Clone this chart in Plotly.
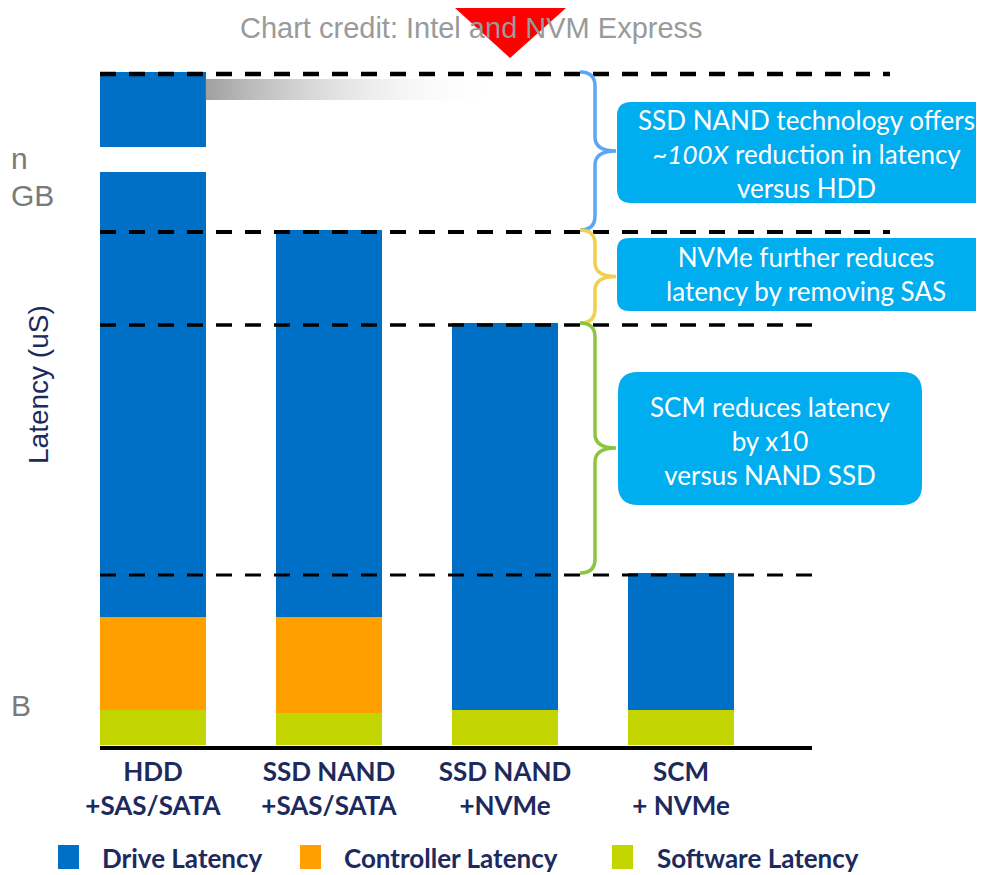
import plotly.graph_objects as go

# ---------------- data ----------------
categories = ["HDD<br>+SAS/SATA", "SSD NAND<br>+SAS/SATA", "SSD NAND<br>+NVMe", "SCM<br>+ NVMe"]
software_latency = [35, 32, 35, 35]
controller_latency = [93, 96, 0, 0]
drive_latency = [545, 387, 387, 137]
series_names = ["Drive Latency", "Controller Latency", "Software Latency"]
callout_texts = [
    "SSD NAND technology offers<br>~<i>100X</i> reduction in latency<br>versus HDD",
    "NVMe further reduces<br>latency by removing SAS",
    "SCM reduces latency<br>by x10<br>versus NAND SSD",
]
credit_text = "Chart credit: Intel and NVM Express"
y_title = "Latency (uS)"
edge_texts = ["n", "GB", "B"]

# ---------------- styles ----------------
C_DRIVE = "#0070c6"
C_CTRL = "#ffa000"
C_SOFT = "#c3d500"
C_BOX = "#00adef"
C_NAVY = "#1c2a5e"
BRACE_COLORS = ["#5aa8f5", "#f0d04c", "#8cc540"]
FONT = "Lato"

W, H = 984, 875
OFF = 8  # page body margin
# plot area in screen pixels: x 100..992, y 8..750
ML, MR, MT = 100 - OFF, 0, 0
PLOT_TOP, PLOT_BOT = OFF, 750
MB = H - (PLOT_BOT - OFF)
PLOT_W = W - ML - MR
PLOT_H = PLOT_BOT - PLOT_TOP
PX_PER_CAT = 176.0
X0_PX = 153.0  # screen pixel centre of first category


def X(px):
    return (px - X0_PX) / PX_PER_CAT


def Y(py):
    return 745 - py


def PX(px):
    return (px - 100) / PLOT_W


def PY(py):
    return (PLOT_BOT - py) / PLOT_H


xs = list(range(len(categories)))
totals = [s + c + d for s, c, d in zip(software_latency, controller_latency, drive_latency)]
colors = [C_DRIVE, C_CTRL, C_SOFT]

fig = go.Figure()
fig.add_trace(go.Bar(x=xs, y=software_latency, name=series_names[2], marker=dict(color=C_SOFT, line=dict(width=0)),
                     width=0.6, showlegend=False))
fig.add_trace(go.Bar(x=xs, y=controller_latency, name=series_names[1], marker=dict(color=C_CTRL, line=dict(width=0)),
                     width=0.6, showlegend=False))
fig.add_trace(go.Bar(x=xs, y=drive_latency, name=series_names[0], marker=dict(color=C_DRIVE, line=dict(width=0)),
                     width=0.6, showlegend=False))

# gradient band next to HDD top
gx0, gx1 = 0.3, X(500)
gy0, gy1 = Y(100), Y(79)
fig.add_trace(go.Scatter(x=[gx0, gx1, gx1, gx0, gx0], y=[gy0, gy0, gy1, gy1, gy0], mode="lines",
                         line=dict(width=0), fill="toself",
                         fillgradient=dict(type="horizontal",
                                           colorscale=[[0, "rgb(160,160,160)"], [1, "rgba(255,255,255,0)"]]),
                         showlegend=False, hoverinfo="skip"))

shapes = []
# axis break on HDD bar
shapes.append(dict(type="rect", xref="x", yref="y", x0=-0.33, x1=0.33, y0=Y(172), y1=Y(147),
                   fillcolor="white", line=dict(width=0), layer="above"))

# dashed reference lines at each bar top
line_ends = [X(890), X(890), X(825), X(820)]
line_widths = [4.5, 4, 3.5, 3]
for t, xe, lw in zip(totals, line_ends, line_widths):
    shapes.append(dict(type="line", xref="x", yref="y", x0=X(100), x1=xe, y0=t - 2, y1=t - 2,
                       line=dict(color="black", width=lw, dash="16px,13px"), layer="above"))

# baseline
shapes.append(dict(type="line", xref="x", yref="y", x0=X(100), x1=X(812), y0=-3, y1=-3,
                   line=dict(color="black", width=4), layer="above"))


# braces
def brace(ytop, ybot, color):
    x0, x1, x2 = X(580), X(595), X(616)
    r = 14
    ym = (ytop + ybot) / 2
    p = (f"M{x0},{ytop} Q{x1},{ytop} {x1},{ytop - r} L{x1},{ym + r} Q{x1},{ym} {x2},{ym} "
         f"Q{x1},{ym} {x1},{ym - r} L{x1},{ybot + r} Q{x1},{ybot} {x0},{ybot}")
    return dict(type="path", xref="x", yref="y", path=p, line=dict(color=color, width=3.5), layer="above")


for i in range(3):
    shapes.append(brace(totals[i], totals[i + 1], BRACE_COLORS[i]))


# rounded callout boxes
def rrect(px0, px1, py0, py1, r):
    x0, x1, y0, y1 = X(px0), X(px1), Y(py1), Y(py0)
    rx, ry = r / PX_PER_CAT, r
    p = (f"M{x0 + rx},{y0} L{x1 - rx},{y0} Q{x1},{y0} {x1},{y0 + ry} L{x1},{y1 - ry} Q{x1},{y1} {x1 - rx},{y1} "
         f"L{x0 + rx},{y1} Q{x0},{y1} {x0},{y1 - ry} L{x0},{y0 + ry} Q{x0},{y0} {x0 + rx},{y0} Z")
    return dict(type="path", xref="x", yref="y", path=p, fillcolor=C_BOX, line=dict(width=0), layer="above")


boxes = [(617, 1010, 102, 203, 14), (617, 1010, 238, 311, 12), (618, 922, 372, 505, 20)]
for b in boxes:
    shapes.append(rrect(*b))

# legend swatches
legend_sw_x = [58, 300, 612]
legend_tx_x = [100, 342, 655]
for sx, c in zip(legend_sw_x, colors):
    shapes.append(dict(type="rect", xref="paper", yref="paper", x0=PX(sx), x1=PX(sx + 21),
                       y0=PY(869), y1=PY(845), fillcolor=c, line=dict(width=0)))

# red triangle marker at top
shapes.append(dict(type="path", xref="x", yref="y",
                   path=f"M{X(455)},{Y(OFF)} L{X(566)},{Y(OFF)} L{X(510)},{Y(58)} Z",
                   fillcolor="#ff0000", line=dict(width=0), layer="above"))

annotations = []
text_centres = [(806, 154), (806, 274), (770, 441)]
for t, (cx, cy) in zip(callout_texts, text_centres):
    annotations.append(dict(x=X(cx), y=Y(cy), xref="x", yref="y", text=t, showarrow=False,
                            font=dict(family=FONT, size=26, color="white"), align="center"))

annotations.append(dict(x=X(471), y=Y(28), xref="x", yref="y", text=credit_text, showarrow=False,
                        xanchor="center", font=dict(family="Liberation Sans", size=29, color="#9a9a9a")))

annotations.append(dict(x=PX(38), y=Y(384), xref="paper", yref="y", text=y_title, xanchor="center",
                        yanchor="middle", textangle=-90, showarrow=False,
                        font=dict(family="Liberation Sans", size=28, color=C_NAVY)))

for txt, cy in zip(edge_texts, [158, 195, 705]):
    annotations.append(dict(x=PX(OFF + 1), y=Y(cy), xref="paper", yref="y", text=txt,
                            xanchor="left", yanchor="middle", showarrow=False,
                            font=dict(family="Liberation Sans", size=30, color="#7a7a7a")))

for name, tx in zip(series_names, legend_tx_x):
    annotations.append(dict(x=PX(tx), y=PY(858), xref="paper", yref="paper", text=name, xanchor="left",
                            yanchor="middle", showarrow=False,
                            font=dict(family=FONT, size=26, color=C_NAVY, weight="bold")))

for s in shapes:
    fig.add_shape(**s)

fig.update_layout(
    width=W, height=H,
    margin=dict(l=ML, r=MR, t=MT, b=MB),
    paper_bgcolor="white", plot_bgcolor="white",
    barmode="stack", bargap=0,
    showlegend=False,
    xaxis=dict(range=[X(100), X(100 + PLOT_W)], tickvals=xs, ticktext=categories, showgrid=False, zeroline=False,
               showline=False, ticks="", tickfont=dict(family=FONT, size=26, color=C_NAVY, weight="bold"),
               ticklabelstandoff=4, fixedrange=True),
    yaxis=dict(range=[Y(PLOT_BOT), Y(PLOT_TOP)], visible=False, fixedrange=True),
    annotations=annotations,
)

fig.write_html("out.html")
